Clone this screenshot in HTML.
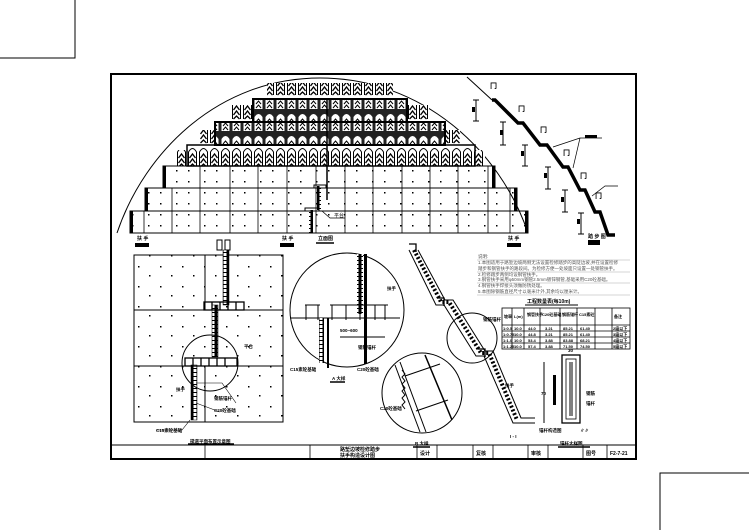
<!DOCTYPE html>
<html><head><meta charset="utf-8"><style>
html,body{margin:0;padding:0;background:#fff;}
svg{display:block;font-family:"Liberation Sans","Noto Sans CJK SC",sans-serif;}
</style></head><body>
<svg width="749" height="530" viewBox="0 0 749 530" xmlns="http://www.w3.org/2000/svg">
<defs>
<pattern id="gab" x="0" y="0" width="11" height="22" patternUnits="userSpaceOnUse">
<rect width="11" height="22" fill="#222"/>
<path d="M1.5 21 V7 Q5.5 1 9.5 7 V21 Z" fill="#fff"/>
<path d="M3 12 L5.5 9 L8 12 M3 16 L5.5 13 L8 16 M3 20 L5.5 17 L8 20" stroke="#000" stroke-width="1" fill="none"/>
</pattern>
<pattern id="gab2" x="0" y="0" width="11" height="24" patternUnits="userSpaceOnUse">
<rect width="11" height="24" fill="#fff"/>
<path d="M1.5 23 V8 Q5.5 1 9.5 8 V23" fill="none" stroke="#000" stroke-width="1"/>
<path d="M2.5 14 L5.5 10 L8.5 14 M2.5 19 L5.5 15 L8.5 19 M2.5 23 L5.5 20 L8.5 23" stroke="#000" stroke-width="1.3" fill="none"/>
</pattern>
<pattern id="dots" x="0" y="0" width="28" height="11" patternUnits="userSpaceOnUse">
<rect x="8" y="5" width="1.5" height="1.5" fill="#000"/><rect x="20" y="5" width="1.5" height="1.5" fill="#000"/>
</pattern>
<pattern id="dots2" x="0" y="0" width="22" height="20" patternUnits="userSpaceOnUse">
<rect x="6" y="6" width="1.5" height="1.5" fill="#000"/><rect x="17" y="15" width="1.5" height="1.5" fill="#000"/>
</pattern>
<pattern id="lad" x="0" y="0" width="6" height="4" patternUnits="userSpaceOnUse">
<rect width="6" height="4" fill="#fff"/><rect x="0" y="0" width="1.5" height="4" fill="#000"/><rect x="4.5" y="0" width="1.5" height="4" fill="#000"/><rect x="0" y="0" width="6" height="1" fill="#000"/>
</pattern>
</defs>

<path d="M0 58 H75 V0" fill="none" stroke="#000" stroke-width="1"/>
<path d="M660 530 V473 H749" fill="none" stroke="#000" stroke-width="1"/>

<rect x="111" y="74" width="525" height="385" fill="none" stroke="#000" stroke-width="2"/>

<path d="M117 233 C 145 150, 220 78, 320 78 C 422 78, 500 150, 528 233" fill="none" stroke="#000" stroke-width="1"/>
<rect x="267" y="83" width="126" height="16" fill="url(#gab2)"/>
<rect x="253" y="99" width="154" height="23" fill="url(#gab)"/>
<rect x="230" y="105" width="23" height="17" fill="url(#gab2)"/>
<rect x="407" y="105" width="22" height="17" fill="url(#gab2)"/>
<rect x="215" y="122" width="230" height="23" fill="url(#gab)"/>
<rect x="200" y="130" width="15" height="15" fill="url(#gab2)"/>
<rect x="445" y="130" width="15" height="15" fill="url(#gab2)"/>
<rect x="187" y="145" width="288" height="21" fill="url(#gab2)"/>
<rect x="177" y="150" width="10" height="16" fill="url(#gab2)"/>
<rect x="475" y="150" width="10" height="16" fill="url(#gab2)"/>
<rect x="215" y="122" width="230" height="23" fill="none" stroke="#000" stroke-width="2"/>
<rect x="253" y="99" width="154" height="23" fill="none" stroke="#000" stroke-width="2"/>
<rect x="187" y="145" width="288" height="21" fill="none" stroke="#000" stroke-width="1.5"/>
<line x1="327" y1="99" x2="327" y2="200" stroke="#000" stroke-width="1.5"/>

<rect x="163" y="166" width="332" height="22" fill="url(#dots)" stroke="#000"/>
<rect x="145" y="188" width="372" height="23" fill="url(#dots)" stroke="#000"/>
<rect x="130" y="211" width="398" height="22" fill="url(#dots)" stroke="#000"/>
<g stroke="#000" stroke-width="0.8">
<line x1="200" y1="166" x2="200" y2="233"/><line x1="230" y1="166" x2="230" y2="233"/><line x1="258" y1="166" x2="258" y2="233"/><line x1="287" y1="166" x2="287" y2="233"/><line x1="316" y1="166" x2="316" y2="233"/><line x1="345" y1="166" x2="345" y2="233"/><line x1="373" y1="166" x2="373" y2="233"/><line x1="402" y1="166" x2="402" y2="233"/><line x1="430" y1="166" x2="430" y2="233"/><line x1="458" y1="166" x2="458" y2="233"/><line x1="488" y1="166" x2="488" y2="233"/><line x1="172" y1="188" x2="172" y2="233"/><line x1="144" y1="211" x2="144" y2="233"/><line x1="510" y1="188" x2="510" y2="233"/>
</g>
<rect x="163" y="166" width="3" height="22" fill="#000"/><rect x="492" y="166" width="3" height="22" fill="#000"/>
<rect x="145" y="188" width="3" height="23" fill="#000"/><rect x="514" y="188" width="3" height="23" fill="#000"/>
<rect x="130" y="211" width="3" height="22" fill="#000"/><rect x="525" y="211" width="3" height="22" fill="#000"/>
<rect x="317" y="186" width="4" height="24" fill="url(#lad)"/>
<rect x="309" y="210" width="4" height="23" fill="url(#lad)"/>
<rect x="314" y="185" width="12" height="3" fill="none" stroke="#000"/>
<rect x="305" y="208" width="14" height="3" fill="none" stroke="#000"/>
<path d="M322 211 L330 218 H345" fill="none" stroke="#000" stroke-width="0.7"/>
<text x="334" y="217" font-size="5">平台</text>

<g font-size="5" font-weight="bold">
<text x="137" y="240">扶 手</text><rect x="135" y="243" width="14" height="4" fill="#000"/>
<text x="282" y="240">扶 手</text><rect x="280" y="243" width="14" height="4" fill="#000"/>
<text x="508" y="240">扶 手</text><rect x="507" y="243" width="14" height="4" fill="#000"/>
<text x="318" y="240">立面图</text><line x1="316" y1="243" x2="334" y2="243" stroke="#000" stroke-width="1.5"/>
<text x="588" y="238">踏 步 图</text><rect x="588" y="240" width="12" height="5" fill="#000"/>
</g>
<rect x="217" y="240" width="5" height="10" fill="none" stroke="#000"/><rect x="225" y="240" width="5" height="10" fill="none" stroke="#000"/>

<line x1="467" y1="77" x2="492" y2="100" stroke="#000"/>
<path d="M492 100 H495 L518 123 H523 L540 145 H547 L563 167 H568 L580 190 H585 L595 212 H600 L608 235 H615" fill="none" stroke="#000" stroke-width="3.5"/>
<g stroke="#000" stroke-width="1">
<line x1="476" y1="100" x2="476" y2="121"/><line x1="473" y1="100" x2="479" y2="100"/><line x1="473" y1="121" x2="479" y2="121"/>
<line x1="503" y1="122" x2="503" y2="145"/><line x1="500" y1="122" x2="506" y2="122"/><line x1="500" y1="145" x2="506" y2="145"/>
<line x1="525" y1="145" x2="525" y2="166"/><line x1="522" y1="145" x2="528" y2="145"/><line x1="522" y1="166" x2="528" y2="166"/>
<line x1="548" y1="167" x2="548" y2="189"/><line x1="545" y1="167" x2="551" y2="167"/><line x1="545" y1="189" x2="551" y2="189"/>
<line x1="565" y1="190" x2="565" y2="212"/><line x1="562" y1="190" x2="568" y2="190"/><line x1="562" y1="212" x2="568" y2="212"/>
<line x1="581" y1="213" x2="581" y2="234"/><line x1="578" y1="213" x2="584" y2="213"/><line x1="578" y1="234" x2="584" y2="234"/>
</g>
<g fill="#000"><rect x="472" y="107" width="3" height="5"/><rect x="500" y="130" width="3" height="5"/><rect x="521" y="151" width="3" height="5"/><rect x="544" y="173" width="3" height="5"/><rect x="561" y="197" width="3" height="5"/><rect x="577" y="219" width="3" height="5"/></g>
<g font-size="7" font-weight="bold"><text x="490" y="88">冂</text><text x="518" y="111">冂</text><text x="540" y="132">冂</text><text x="563" y="155">冂</text><text x="580" y="178">冂</text><text x="595" y="198">冂</text></g>
<path d="M553 147 L580 138 H602 M573 168 L580 138" fill="none" stroke="#000" stroke-width="0.7"/>
<rect x="585" y="135" width="12" height="3" fill="#000"/>
<path d="M592 196 L605 186 H618" fill="none" stroke="#000" stroke-width="0.7"/>

<rect x="134" y="255" width="149" height="167" fill="url(#dots2)" stroke="#000"/>
<line x1="134" y1="310" x2="283" y2="310" stroke="#000"/>
<line x1="134" y1="366" x2="283" y2="366" stroke="#000"/>
<line x1="205" y1="255" x2="205" y2="310" stroke="#000"/>
<line x1="205" y1="366" x2="205" y2="422" stroke="#000"/>
<rect x="223" y="250" width="6" height="55" fill="url(#lad)" stroke="#000" stroke-width="0.5"/>
<rect x="212" y="305" width="6" height="52" fill="url(#lad)" stroke="#000" stroke-width="0.5"/>
<rect x="191" y="365" width="6" height="55" fill="url(#lad)" stroke="#000" stroke-width="0.5"/>
<g fill="none" stroke="#000" stroke-width="1.3">
<rect x="204" y="302" width="40" height="8"/><rect x="185" y="358" width="52" height="8"/>
<line x1="212" y1="302" x2="212" y2="310"/><line x1="220" y1="302" x2="220" y2="310"/><line x1="228" y1="302" x2="228" y2="310"/><line x1="236" y1="302" x2="236" y2="310"/>
<line x1="193" y1="358" x2="193" y2="366"/><line x1="201" y1="358" x2="201" y2="366"/><line x1="209" y1="358" x2="209" y2="366"/><line x1="217" y1="358" x2="217" y2="366"/><line x1="225" y1="358" x2="225" y2="366"/>
</g>
<circle cx="210" cy="363" r="28" fill="none" stroke="#000"/>
<g font-size="4.5" font-weight="bold">
<text x="244" y="348">平台</text><text x="176" y="391">扶手</text>
<text x="214" y="400">钢筋锚杆</text><text x="214" y="412">C20砼基础</text>
<text x="156" y="432">C15素砼基础</text><text x="190" y="443">梯道平面布置示意图</text>
</g>
<line x1="188" y1="444" x2="234" y2="444" stroke="#000" stroke-width="1.5"/>
<path d="M196 383 H222 L236 403 M196 403 L220 412 M190 420 L182 430 H156" fill="none" stroke="#000" stroke-width="0.6"/>

<circle cx="347" cy="310" r="57" fill="none" stroke="#000"/>
<rect x="357" y="254" width="6" height="60" fill="url(#lad)"/>
<rect x="364" y="254" width="3" height="110" fill="#000"/>
<g fill="none" stroke="#000" stroke-width="1">
<line x1="330" y1="305" x2="388" y2="305"/><line x1="305" y1="305" x2="320" y2="305"/>
<line x1="306" y1="305" x2="306" y2="320"/><line x1="318" y1="305" x2="318" y2="320"/>
<line x1="332" y1="305" x2="332" y2="320"/><line x1="346" y1="305" x2="346" y2="320"/><line x1="360" y1="305" x2="360" y2="320"/><line x1="375" y1="305" x2="375" y2="320"/><line x1="385" y1="305" x2="385" y2="320"/>
<line x1="290" y1="318" x2="400" y2="318"/>
<line x1="340" y1="337" x2="385" y2="337"/>
</g>
<rect x="319" y="318" width="5" height="45" fill="url(#lad)"/>
<rect x="327" y="318" width="2" height="50" fill="#000"/>
<g font-size="4.5" font-weight="bold">
<text x="340" y="332">500~600</text><text x="387" y="290">扶手</text><text x="358" y="349">钢筋锚杆</text>
<text x="290" y="371">C15素砼基础</text><text x="357" y="371">C20砼基础</text><text x="332" y="380">A 大样</text>
</g>
<line x1="330" y1="382" x2="345" y2="382" stroke="#000" stroke-width="1.5"/>

<path d="M409 250 L436 305 H444 L476 356 H484 L513 423 H535" fill="none" stroke="#000" stroke-width="1"/>
<path d="M418 250 L445 300 H453 L485 351 H493 L521 418 H535" fill="none" stroke="#000" stroke-width="1"/>
<path d="M414 250 L441 302 H449 L481 353 H489 L517 420" fill="none" stroke="#000" stroke-width="4" stroke-dasharray="2 2"/>
<g fill="none" stroke="#000" stroke-width="1.3">
<path d="M409 244 H416 V252 M437 298 H444 V306 M478 349 H485 V357"/>
</g>
<circle cx="472" cy="338" r="25" fill="none" stroke="#000"/>
<g font-size="4.5" font-weight="bold"><text x="483" y="321">钢筋锚杆</text><text x="505" y="387">扶手</text><text x="510" y="438">I - I</text></g>

<circle cx="422" cy="393" r="40" fill="none" stroke="#000"/>
<g stroke="#000" fill="none">
<line x1="395" y1="365" x2="420" y2="432" /><line x1="400" y1="362" x2="426" y2="432"/>
<line x1="425" y1="355" x2="452" y2="420" stroke-width="1.5"/>
<line x1="405" y1="376" x2="440" y2="364"/><line x1="416" y1="411" x2="448" y2="400"/>
<path d="M402 370 l3 4 l-3 3 l3 4 l-3 3 l3 4 l-3 3 l3 4 l-3 3 l3 4 l-3 3 l3 4" stroke-width="1"/>
</g>
<g font-size="4.5" font-weight="bold"><text x="380" y="410">C20砼基础</text><text x="415" y="445">B 大样</text></g>
<line x1="413" y1="447" x2="430" y2="447" stroke="#000" stroke-width="1.5"/>

<g font-size="4.5" fill="#555">
<text x="478" y="258">说明:</text>
<text x="478" y="264">1.本图适用于路堑边坡两侧无法设置检修踏步的高陡边坡,并在设置检修</text>
<text x="478" y="270">踏步和钢管扶手的路段间。为检修方便一处坡面只设置一处钢管扶手。</text>
<text x="478" y="276">2.检修踏步两侧均设钢管扶手。</text>
<text x="478" y="281">3.钢管扶手采用φ50mm钢管2.5mm镀锌钢管,基础采用C20砼基础。</text>
<text x="478" y="287">4.钢管扶手焊接头须做防锈处理。</text>
<text x="478" y="293">5.本图除钢筋直径尺寸以毫米计外,其余均以厘米计。</text>
</g>
<g stroke="#aaa" stroke-width="0.5"><line x1="477" y1="260" x2="630" y2="260"/><line x1="477" y1="272" x2="630" y2="272"/><line x1="477" y1="283" x2="630" y2="283"/><line x1="477" y1="295" x2="630" y2="295"/></g>
<text x="527" y="303" font-size="5" font-weight="bold">工程数量表(每10m)</text>
<line x1="525" y1="305" x2="578" y2="305" stroke="#000"/>
<g stroke="#000" fill="none" stroke-width="0.8">
<rect x="502" y="308" width="128" height="41"/>
<line x1="502" y1="325" x2="630" y2="325"/><line x1="502" y1="331" x2="630" y2="331"/><line x1="502" y1="337" x2="630" y2="337"/><line x1="502" y1="343" x2="630" y2="343"/>
<line x1="512" y1="308" x2="512" y2="349"/><line x1="524" y1="308" x2="524" y2="349"/><line x1="540" y1="308" x2="540" y2="349"/><line x1="560" y1="308" x2="560" y2="349"/><line x1="577" y1="308" x2="577" y2="349"/><line x1="595" y1="308" x2="595" y2="349"/><line x1="612" y1="308" x2="612" y2="349"/>
</g>
<g font-size="4" font-weight="bold">
<text x="504" y="318">坡率</text><text x="514" y="318">L(m)</text><text x="527" y="316">钢管扶手</text><text x="542" y="316">C20砼基础</text><text x="562" y="316">钢筋锚杆</text><text x="579" y="316">C15素砼</text><text x="614" y="318">备注</text>
<text x="503" y="330">1:0.5</text><text x="514" y="330">10.0</text><text x="528" y="330">44.0</text><text x="545" y="330">3.21</text><text x="563" y="330">85.21</text><text x="580" y="330">61.40</text><text x="613" y="330">2级以下</text>
<text x="503" y="336">1:0.75</text><text x="514" y="336">10.0</text><text x="528" y="336">44.8</text><text x="545" y="336">3.21</text><text x="563" y="336">85.21</text><text x="580" y="336">61.40</text><text x="613" y="336">3级以下</text>
<text x="503" y="342">1:1.0</text><text x="514" y="342">10.0</text><text x="528" y="342">53.4</text><text x="545" y="342">3.88</text><text x="563" y="342">83.88</text><text x="580" y="342">68.21</text><text x="613" y="342">4级以下</text>
<text x="503" y="348">1:1.25</text><text x="514" y="348">10.0</text><text x="528" y="348">57.4</text><text x="545" y="348">3.88</text><text x="563" y="348">71.50</text><text x="580" y="348">74.50</text><text x="613" y="348">5级以下</text>
</g>

<rect x="562" y="355" width="18" height="68" fill="none" stroke="#000" stroke-width="1.3"/>
<rect x="566" y="359" width="10" height="60" fill="none" stroke="#000" stroke-width="0.8"/>
<line x1="570" y1="362" x2="570" y2="416" stroke="#000"/><line x1="572" y1="362" x2="572" y2="416" stroke="#000"/>
<line x1="544" y1="362" x2="544" y2="423" stroke="#000"/>
<rect x="553" y="375" width="3" height="30" fill="#000"/>
<g font-size="4.5" font-weight="bold"><text x="568" y="352">30</text><text x="541" y="395">70</text><text x="586" y="395">钢筋</text><text x="586" y="405">锚杆</text><text x="539" y="432">锚杆构造图</text><text x="580" y="432">∥∥</text><text x="560" y="445">锚杆大样图</text></g>
<line x1="558" y1="447" x2="590" y2="447" stroke="#000" stroke-width="1.5"/>

<line x1="111" y1="445" x2="636" y2="445" stroke="#000"/>
<g stroke="#000" stroke-width="0.8">
<line x1="205" y1="445" x2="205" y2="459"/><line x1="310" y1="445" x2="310" y2="459"/><line x1="417" y1="445" x2="417" y2="459"/><line x1="437" y1="445" x2="437" y2="459"/><line x1="473" y1="445" x2="473" y2="459"/><line x1="493" y1="445" x2="493" y2="459"/><line x1="528" y1="445" x2="528" y2="459"/><line x1="548" y1="445" x2="548" y2="459"/><line x1="583" y1="445" x2="583" y2="459"/><line x1="607" y1="445" x2="607" y2="459"/>
</g>
<g font-size="5" font-weight="bold">
<text x="340" y="451">路堑边坡检修踏步</text><text x="340" y="457">扶手构造设计图</text>
<text x="420" y="455">设计</text><text x="476" y="455">复核</text><text x="531" y="455">审核</text><text x="586" y="455">图号</text><text x="610" y="455">F2-7-21</text>
</g>
</svg>
</body></html>
